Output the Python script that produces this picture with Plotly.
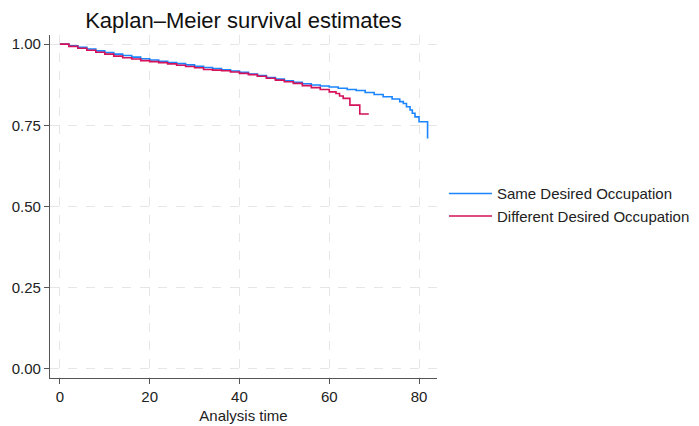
import plotly.graph_objects as go

title_text = "Kaplan–Meier survival estimates"
x_title = "Analysis time"
series_names = ["Same Desired Occupation", "Different Desired Occupation"]

same_t = [0, 2, 4, 6, 8, 10, 12, 14, 16, 18, 20, 22, 24, 26, 28, 30, 32, 34, 36, 38, 40,
          42, 44, 46, 48, 50, 52, 54, 56, 58, 60, 62, 64, 66, 68, 70, 72, 74, 75.7, 76.5,
          77.2, 78, 78.5, 79.1, 80, 81.9]
same_s = [1.0, 0.995, 0.99, 0.985, 0.979, 0.974, 0.969, 0.965, 0.960, 0.955, 0.951, 0.947,
          0.943, 0.940, 0.936, 0.932, 0.928, 0.925, 0.921, 0.917, 0.913, 0.908, 0.903, 0.897,
          0.892, 0.887, 0.882, 0.878, 0.874, 0.871, 0.868, 0.864, 0.860, 0.857, 0.851, 0.845,
          0.838, 0.831, 0.823, 0.817, 0.807, 0.797, 0.787, 0.776, 0.761, 0.709]

diff_t = [0, 2, 4, 6, 8, 10, 12, 14, 16, 18, 20, 22, 24, 26, 28, 30, 32, 34, 36, 38, 40,
          42, 44, 46, 48, 50, 52, 54, 56, 58, 60, 61.5, 62.3, 63.1, 64.6, 66.8, 68.8]
diff_s = [1.0, 0.993, 0.987, 0.981, 0.975, 0.969, 0.963, 0.958, 0.954, 0.949, 0.946, 0.943,
          0.939, 0.935, 0.931, 0.927, 0.922, 0.920, 0.918, 0.914, 0.910, 0.906, 0.901, 0.895,
          0.889, 0.884, 0.879, 0.872, 0.866, 0.860, 0.853, 0.848, 0.840, 0.833, 0.812, 0.785,
          0.785]

x_ticks = [0, 20, 40, 60, 80]
y_ticks = [0.0, 0.25, 0.5, 0.75, 1.0]
y_labels = ["0.00", "0.25", "0.50", "0.75", "1.00"]

colors = ["#1a85ff", "#d41159"]

fig = go.Figure()
fig.add_trace(go.Scatter(x=same_t, y=same_s, mode="lines", line_shape="hv",
                         name=series_names[0], line=dict(color=colors[0], width=1.6)))
fig.add_trace(go.Scatter(x=diff_t, y=diff_s, mode="lines", line_shape="hv",
                         name=series_names[1], line=dict(color=colors[1], width=1.6)))

font_family = "Liberation Sans, Arial, sans-serif"
fig.update_layout(
    width=699, height=426,
    margin=dict(l=50, r=262, t=35, b=48, autoexpand=False),
    paper_bgcolor="white", plot_bgcolor="white",
    font=dict(family=font_family, size=15, color="#222222"),
    title=dict(text=title_text, x=(50 + 437) / 2 / 699, xanchor="center",
               y=1 - 20 / 426, yanchor="middle",
               font=dict(size=22, color="#111111")),
    legend=dict(x=1.018, xanchor="left", y=0.505, yanchor="middle",
                font=dict(size=15, color="#222222"), bgcolor="rgba(0,0,0,0)",
                tracegroupgap=0, itemwidth=43),
    showlegend=True,
)
fig.update_xaxes(
    range=[-2.2, 84], tickvals=x_ticks, ticks="outside", ticklen=5, tickcolor="#555555",
    showline=True, linecolor="#555555", linewidth=1.2, automargin=False,
    showgrid=True, gridcolor="#e6e6e6", griddash="dash", gridwidth=1.2, zeroline=False,
    title=dict(text=x_title, standoff=6, font=dict(size=15)),
)
fig.update_yaxes(
    range=[-0.028, 1.028], tickvals=y_ticks, ticktext=y_labels, ticks="outside", ticklen=5,
    tickcolor="#555555", showline=True, linecolor="#555555", linewidth=1.2, automargin=False,
    showgrid=True, gridcolor="#e6e6e6", griddash="dash", gridwidth=1.2, zeroline=False,
)

fig.write_html("out.html", config={"displayModeBar": False},
               post_script="document.body.style.margin='0';")
